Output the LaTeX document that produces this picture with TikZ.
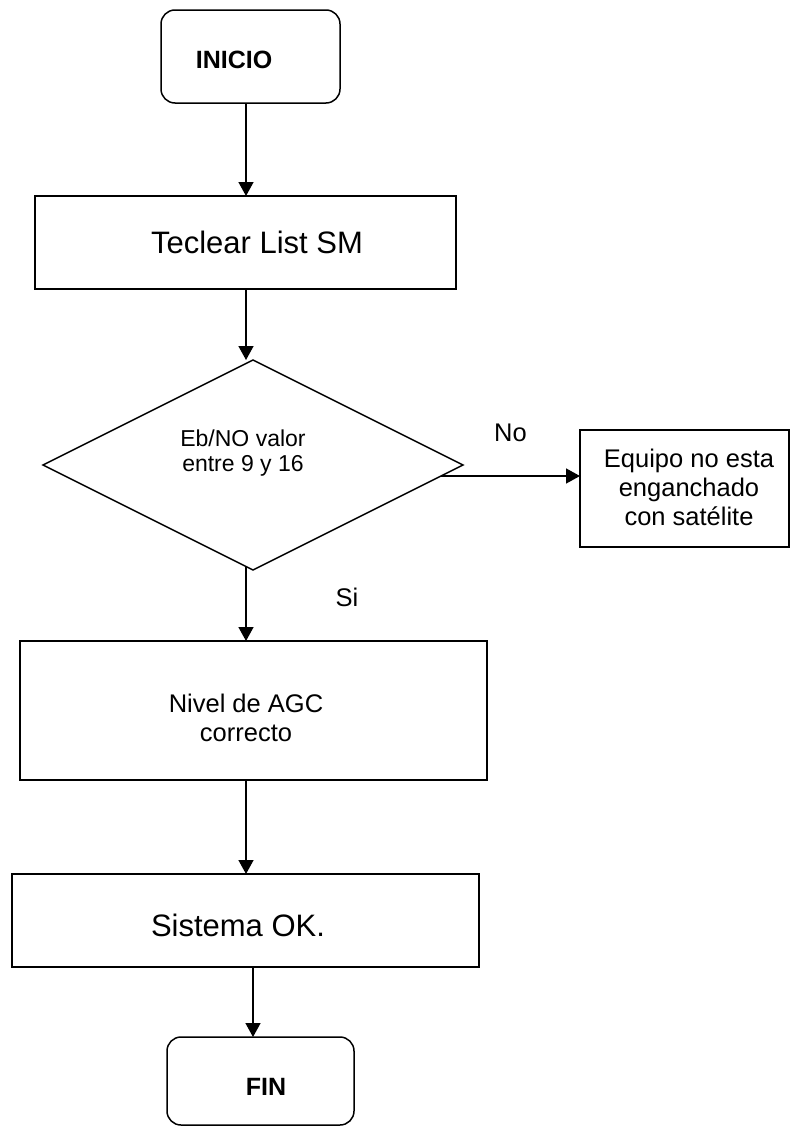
\documentclass[tikz,border=0pt]{standalone}
\usepackage{fontspec}
\setmainfont{Liberation Sans}
\usetikzlibrary{shapes.geometric,arrows.meta}
\begin{document}
\begin{tikzpicture}[x=1pt,y=-1pt,
  line width=1.5pt,
  box/.style={draw, rectangle, inner sep=0pt, outer sep=0pt},
  term/.style={box, rounded corners=14pt},
  decision/.style={draw, diamond, aspect=2, inner sep=0pt, outer sep=0pt},
  arr/.style={-{Triangle[length=14pt,width=15pt]}, line width=1.5pt},
  txt/.style={align=center, inner sep=0pt},
  f23/.style={font=\fontsize{23}{25}\selectfont},
  f25/.style={font=\fontsize{25.5}{29}\selectfont},
  f31/.style={font=\fontsize{31}{36}\selectfont},
  fb25/.style={font=\fontsize{25}{29}\selectfont\bfseries},
]
\useasboundingbox (0,0) rectangle (790,1127);

% column lines for the vertical connectors
\coordinate (col) at (246,0);
\coordinate (col2) at (253,0);

% boxes of the flow
\node[term, minimum width=179pt, minimum height=93pt,
  label={[txt,fb25,xshift=-16.5pt,yshift=-3.5pt]center:INICIO}] (inicio) at (250.5,56.5) {};
\node[box, minimum width=421pt, minimum height=93pt,
  label={[txt,f31,xshift=11.5pt,yshift=0pt]center:Teclear List SM}] (teclear) at (245.5,242.5) {};
\node[decision, minimum width=420pt, minimum height=210pt,
  label={[txt,f23,xshift=-10pt,yshift=12pt]center:Eb/NO valor\\entre 9 y 16}] (dia) at (253,465) {};
\node[box, minimum width=209pt, minimum height=117pt,
  label={[txt,f25,xshift=4.5pt,yshift=1.5pt]center:Equipo no esta\\enganchado\\con satélite}] (equipo) at (684.5,488.5) {};
\node[box, minimum width=467pt, minimum height=139pt,
  label={[txt,f25,xshift=-7.5pt,yshift=-7.5pt]center:Nivel de AGC\\correcto}] (nivel) at (253.5,710.5) {};
\node[box, minimum width=467pt, minimum height=93pt,
  label={[txt,f31,xshift=-7.5pt,yshift=-4.5pt]center:Sistema OK.}] (sistema) at (245.5,920.5) {};
\node[term, minimum width=187pt, minimum height=88pt,
  label={[txt,fb25,xshift=5.5pt,yshift=-6pt]center:FIN}] (fin) at (260.5,1081) {};

% connectors
\draw[arr] (inicio.south -| col) -- (teclear.north -| col);
\draw[arr] (teclear.south -| col) -- (col |- dia.north);

\path (dia.east) ++(-22pt,-11pt) coordinate (noA);
\draw[arr] (noA) -- (noA -| equipo.west)
  node[midway, yshift=43pt, f25, inner sep=0pt] (no) {No};

\path (dia.south -| col) ++(0pt,3.5pt) coordinate (siA);
\draw[arr] (siA) -- (nivel.north -| col)
  node[pos=0.41, xshift=101pt, f25, inner sep=0pt] (si) {Si};

\draw[arr] (nivel.south -| col) -- (sistema.north -| col);
\draw[arr] (sistema.south -| col2) -- (fin.north -| col2);
\end{tikzpicture}
\end{document}
